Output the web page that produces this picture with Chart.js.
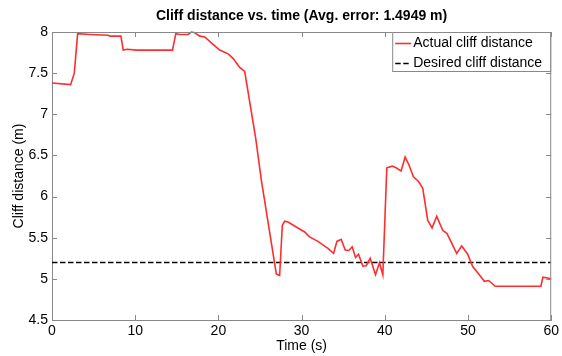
<!DOCTYPE html>
<html>
<head>
<meta charset="utf-8">
<script src="https://cdn.jsdelivr.net/npm/chart.js@4"></script>
<style>
    html, body { margin: 0; padding: 0; background: #fff; }
    #wrap { width: 562px; height: 356px; }
</style>
</head>
<body>
<div id="wrap"><canvas id="cliffChart"></canvas></div>
<script>
// dane
const times = [0, 2.24, 2.68, 3.08, 4.56, 6.76, 6.96, 8.28, 8.56, 9.04, 10.16, 11.96, 14.48, 14.88, 15.36, 16.36, 16.76, 17.16, 17.76, 18.36,
    19.36, 20.16, 21.16, 21.76, 22.56, 23.16, 24.48, 25.16, 26.96, 27.36, 27.68, 27.96, 28.36, 29.36, 30.36, 30.96, 31.96, 33.16, 33.84, 34.24,
    34.76, 35.24, 35.68, 36.08, 36.48, 36.84, 37.36, 37.76, 38.24, 38.88, 39.36, 39.76, 40.24, 40.88, 41.36, 41.96, 42.44, 42.88, 43.44, 44.08,
    44.56, 45.16, 45.68, 46.24, 46.96, 47.48, 48.64, 49.24, 49.96, 50.56, 51.36, 51.96, 52.48, 53.28, 55.76, 58.56, 58.76, 59.0, 59.56, 60];
const actualDistance = [7.38, 7.36, 7.50, 7.98, 7.97, 7.96, 7.95, 7.95, 7.78, 7.79, 7.78, 7.78, 7.78, 7.98, 7.97, 7.97, 8.0, 7.99, 7.95, 7.94,
    7.85, 7.78, 7.735, 7.68, 7.57, 7.52, 6.71, 6.2, 5.06, 5.04, 5.65, 5.70, 5.69, 5.63, 5.57, 5.51, 5.455, 5.37, 5.31, 5.455,
    5.48, 5.35, 5.345, 5.39, 5.26, 5.30, 5.155, 5.16, 5.25, 5.05, 5.195, 5.05, 6.35, 6.37, 6.35, 6.31, 6.48, 6.39, 6.24, 6.18,
    6.10, 5.71, 5.62, 5.76, 5.59, 5.55, 5.31, 5.40, 5.30, 5.15, 5.05, 4.97, 4.98, 4.91, 4.91, 4.91, 4.91, 5.02, 5.01, 5.0];
const desiredTimes = [0, 60];
const desiredDistance = [5.2, 5.2];
const xTicks = [0, 10, 20, 30, 40, 50, 60];
const yTicks = [4.5, 5, 5.5, 6, 6.5, 7, 7.5, 8];

const chartTitle = 'Cliff distance vs. time (Avg. error: 1.4949 m)';
const fontName = '"Liberation Sans", Arial, Helvetica, sans-serif';
const axisColor = '#888';

// ramka, znaczniki do wewnatrz, tytul i legenda w stylu matlaba
const matlabPlugin = {
    id: 'matlabStyle',
    afterDraw(chart) {
        const ctx = chart.ctx;
        const area = chart.chartArea;
        const xs = chart.scales.x;
        const ys = chart.scales.y;
        ctx.save();

        ctx.strokeStyle = axisColor;
        ctx.lineWidth = 1;
        ctx.beginPath();
        ctx.moveTo(area.left, area.top + 0.5);
        ctx.lineTo(area.right, area.top + 0.5);
        ctx.moveTo(area.right - 0.5, area.top);
        ctx.lineTo(area.right - 0.5, area.bottom);
        xTicks.forEach(t => {
            const px = Math.round(xs.getPixelForValue(t)) + 0.5;
            ctx.moveTo(px, area.bottom);
            ctx.lineTo(px, area.bottom - 5);
            ctx.moveTo(px, area.top);
            ctx.lineTo(px, area.top + 5);
        });
        yTicks.forEach(v => {
            const py = Math.round(ys.getPixelForValue(v)) + 0.5;
            ctx.moveTo(area.left, py);
            ctx.lineTo(area.left + 5, py);
            ctx.moveTo(area.right, py);
            ctx.lineTo(area.right - 5, py);
        });
        ctx.stroke();

        // tytul
        ctx.fillStyle = '#000';
        ctx.font = 'bold 14px ' + fontName;
        ctx.textAlign = 'center';
        ctx.textBaseline = 'middle';
        ctx.fillText(chartTitle, (area.left + area.right) / 2, 16);

        // legenda
        const boxW = 158, boxH = 39;
        const bx = area.right - boxW - 1;
        const by = area.top;
        ctx.fillStyle = '#fff';
        ctx.fillRect(bx, by, boxW, boxH);
        ctx.strokeStyle = axisColor;
        ctx.lineWidth = 1;
        ctx.strokeRect(bx + 0.5, by + 0.5, boxW, boxH);
        ctx.font = '14px ' + fontName;
        ctx.textAlign = 'left';
        chart.data.datasets.forEach((ds, i) => {
            const rowY = by + 11.5 + i * 20;
            ctx.strokeStyle = ds.borderColor;
            ctx.lineWidth = ds.borderWidth;
            ctx.setLineDash(ds.borderDash || []);
            ctx.beginPath();
            ctx.moveTo(bx + 3, rowY);
            ctx.lineTo(bx + 19, rowY);
            ctx.stroke();
            ctx.setLineDash([]);
            ctx.fillStyle = '#000';
            ctx.fillText(ds.label, bx + 21, rowY);
        });
        ctx.restore();
    }
};

const ctx = document.getElementById('cliffChart').getContext('2d');
const cliffChart = new Chart(ctx, {
    type: 'line',
    data: {
        datasets: [{
            label: 'Actual cliff distance',
            data: times.map((t, i) => ({ x: t, y: actualDistance[i] })),
            borderColor: 'rgb(255, 45, 45)',
            borderWidth: 1.6,
            pointRadius: 0,
            tension: 0,
            clip: 2
        }, {
            label: 'Desired cliff distance',
            data: desiredTimes.map((t, i) => ({ x: t, y: desiredDistance[i] })),
            borderColor: '#000',
            borderWidth: 1.5,
            borderDash: [5.5, 2.5],
            pointRadius: 0
        }]
    },
    options: {
        responsive: true,
        maintainAspectRatio: false,
        animation: false,
        layout: { padding: { top: 32, right: 10, left: 0, bottom: 0 } },
        plugins: {
            legend: { display: false },
            title: { display: false },
            tooltip: { enabled: false }
        },
        scales: {
            x: {
                type: 'linear',
                min: 0,
                max: 60,
                afterFit: scale => { scale.height = 36; },
                afterBuildTicks: scale => { scale.ticks = xTicks.map(v => ({ value: v })); },
                grid: { display: false, drawTicks: false },
                border: { display: true, color: axisColor, width: 1 },
                ticks: { color: '#000', padding: 3, font: { family: fontName, size: 14 }, callback: v => String(v) },
                title: { display: true, text: 'Time (s)', color: '#000', padding: { top: 0, bottom: 1 }, font: { family: fontName, size: 14 } }
            },
            y: {
                min: 4.5,
                max: 8,
                afterFit: scale => { scale.width = 52; },
                afterBuildTicks: scale => { scale.ticks = yTicks.map(v => ({ value: v })); },
                grid: { display: false, drawTicks: false },
                border: { display: true, color: axisColor, width: 1 },
                ticks: { color: '#000', padding: 4, font: { family: fontName, size: 14 }, callback: v => String(v) },
                title: { display: true, text: 'Cliff distance (m)', color: '#000', padding: { top: 11, bottom: 0 }, font: { family: fontName, size: 14 } }
            }
        }
    },
    plugins: [matlabPlugin]
});
</script>
</body>
</html>
